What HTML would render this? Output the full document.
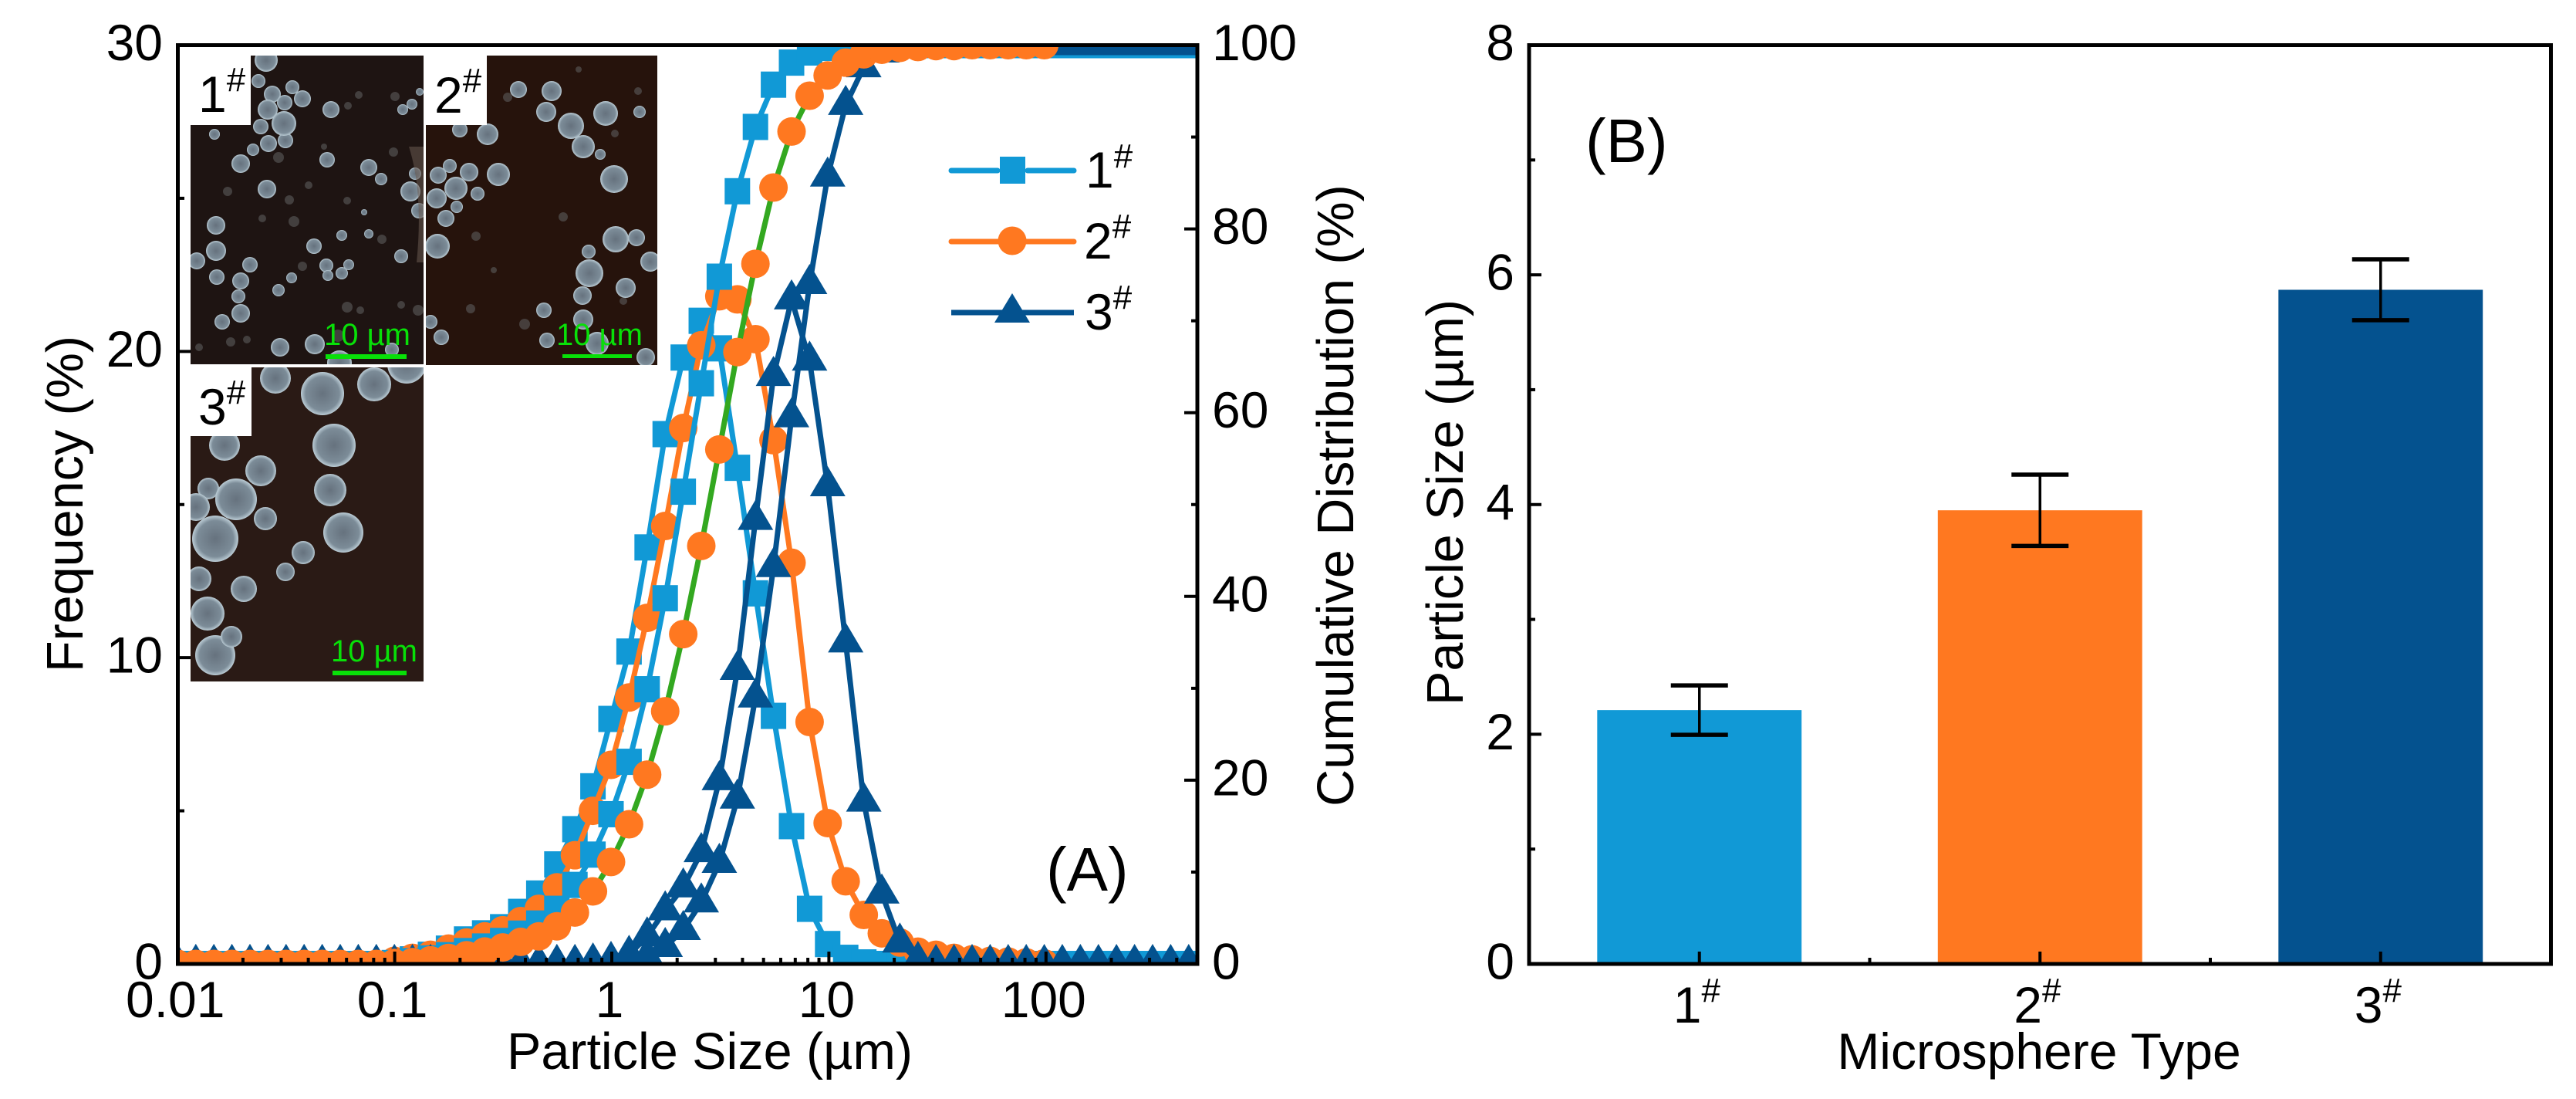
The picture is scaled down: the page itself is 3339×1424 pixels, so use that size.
<!DOCTYPE html>
<html lang="en">
<head>
<meta charset="utf-8">
<title>Particle size distribution and microsphere size</title>
<style>
html,body{margin:0;padding:0;background:#fff}
svg{display:block}
text{font-family:"Liberation Sans",Arial,sans-serif;fill:#000}
</style>
</head>
<body>
<svg id="figure" xmlns="http://www.w3.org/2000/svg" width="3339" height="1424" viewBox="0 0 3339 1424">
  <defs>
    <radialGradient id="bubble" cx="50%" cy="50%" r="50%">
      <stop offset="0%" stop-color="#66727e"/>
      <stop offset="78%" stop-color="#7c8c98"/>
      <stop offset="100%" stop-color="#bccdd6"/>
    </radialGradient>
    <clipPath id="clip-a"><rect x="233" y="60.5" width="1316.5" height="1186"/></clipPath>
    <clipPath id="clip-inset-1"><polygon points="325,72 549,72 549,472 247,472 247,162 325,162"/></clipPath>
    <clipPath id="clip-inset-2"><polygon points="631,72 852,72 852,473 552,473 552,162 631,162"/></clipPath>
    <clipPath id="clip-inset-3"><polygon points="326,476 549,476 549,883 247,883 247,565 326,565"/></clipPath>
  </defs>

  <rect x="0" y="0" width="3339" height="1424" fill="#ffffff"/>

  <g id="panel-a">
    <g id="marks-a" clip-path="url(#clip-a)"></g>

    <g clip-path="url(#clip-inset-1)">
      <rect x="247" y="72" width="302" height="400" fill="#1e1412"/>
      <g fill="#4d4a4a" opacity=".8">
        <circle cx="295" cy="248" r="6"/><circle cx="361" cy="204" r="7"/><circle cx="375" cy="259" r="6"/><circle cx="381" cy="287" r="7"/><circle cx="392" cy="345" r="6"/><circle cx="465" cy="123" r="5"/><circle cx="451" cy="137" r="5"/><circle cx="512" cy="125" r="6"/><circle cx="510" cy="197" r="6"/><circle cx="450" cy="398" r="7"/><circle cx="467" cy="402" r="5"/><circle cx="542" cy="402" r="7"/><circle cx="299" cy="443" r="6"/><circle cx="438" cy="435" r="8"/><circle cx="520" cy="395" r="5"/><circle cx="340" cy="283" r="5"/><circle cx="400" cy="240" r="5"/><circle cx="450" cy="260" r="5"/><circle cx="495" cy="310" r="6"/><circle cx="420" cy="190" r="4"/><circle cx="320" cy="440" r="5"/><circle cx="258" cy="450" r="5"/>
      </g>
      <g fill="url(#bubble)">
        <circle cx="345" cy="78" r="15"/><circle cx="335" cy="105" r="9"/><circle cx="353" cy="122" r="11"/><circle cx="379" cy="113" r="9"/><circle cx="392" cy="128" r="11"/><circle cx="369" cy="133" r="10"/><circle cx="347" cy="142" r="13"/><circle cx="338" cy="164" r="10"/><circle cx="370" cy="182" r="10"/><circle cx="368" cy="160" r="16"/><circle cx="348" cy="186" r="11"/><circle cx="328" cy="194" r="8"/><circle cx="312" cy="212" r="12"/><circle cx="278" cy="174" r="7"/><circle cx="346" cy="245" r="12"/><circle cx="280" cy="292" r="12"/><circle cx="280" cy="325" r="13"/><circle cx="255" cy="338" r="11"/><circle cx="324" cy="343" r="10"/><circle cx="281" cy="359" r="10"/><circle cx="312" cy="364" r="11"/><circle cx="309" cy="384" r="9"/><circle cx="312" cy="406" r="12"/><circle cx="407" cy="319" r="10"/><circle cx="361" cy="376" r="8"/><circle cx="378" cy="360" r="7"/><circle cx="288" cy="417" r="10"/><circle cx="363" cy="450" r="12"/><circle cx="408" cy="446" r="13"/><circle cx="423" cy="344" r="9"/><circle cx="425" cy="357" r="7"/><circle cx="443" cy="354" r="8"/><circle cx="452" cy="343" r="7"/><circle cx="520" cy="332" r="9"/><circle cx="508" cy="453" r="9"/><circle cx="429" cy="142" r="11"/><circle cx="534" cy="135" r="7"/><circle cx="522" cy="142" r="7"/><circle cx="544" cy="119" r="5"/><circle cx="424" cy="207" r="10"/><circle cx="478" cy="217" r="11"/><circle cx="494" cy="232" r="8"/><circle cx="532" cy="248" r="13"/><circle cx="538" cy="225" r="8"/><circle cx="543" cy="273" r="10"/><circle cx="472" cy="275" r="4"/><circle cx="443" cy="305" r="7"/><circle cx="478" cy="303" r="6"/><circle cx="440" cy="470" r="16"/>
      </g>
      <path d="M530 190 Q549 250 540 340 L549 340 L549 190Z" fill="#6a5a50" opacity=".55"/>
    </g>
    <text x="257" y="145" font-size="66">1<tspan dy="-27" font-size="44">#</tspan></text>
    <text x="420" y="447" font-size="40" style="fill:#08e008">10 µm</text>
    <rect x="422" y="459" width="105" height="6" fill="#08e008"/>

    <g clip-path="url(#clip-inset-2)">
      <rect x="552" y="72" width="300" height="401" fill="#26130c"/>
      <g fill="#4f4a48" opacity=".8">
        <circle cx="658" cy="126" r="6"/><circle cx="617" cy="306" r="6"/><circle cx="730" cy="281" r="6"/><circle cx="797" cy="173" r="5"/><circle cx="827" cy="118" r="5"/><circle cx="808" cy="390" r="5"/><circle cx="610" cy="400" r="6"/><circle cx="680" cy="420" r="7"/><circle cx="750" cy="90" r="4"/><circle cx="640" cy="350" r="4"/>
      </g>
      <g fill="url(#bubble)">
        <circle cx="672" cy="116" r="11"/><circle cx="715" cy="118" r="13"/><circle cx="708" cy="145" r="13"/><circle cx="632" cy="174" r="14"/><circle cx="596" cy="168" r="10"/><circle cx="583" cy="215" r="9"/><circle cx="568" cy="227" r="11"/><circle cx="608" cy="223" r="12"/><circle cx="646" cy="226" r="15"/><circle cx="591" cy="244" r="15"/><circle cx="566" cy="257" r="13"/><circle cx="619" cy="251" r="9"/><circle cx="578" cy="283" r="11"/><circle cx="592" cy="268" r="8"/><circle cx="567" cy="319" r="16"/><circle cx="740" cy="163" r="17"/><circle cx="756" cy="190" r="15"/><circle cx="778" cy="200" r="7"/><circle cx="785" cy="147" r="16"/><circle cx="829" cy="145" r="8"/><circle cx="796" cy="232" r="18"/><circle cx="798" cy="310" r="17"/><circle cx="825" cy="308" r="11"/><circle cx="763" cy="326" r="9"/><circle cx="843" cy="339" r="13"/><circle cx="764" cy="354" r="18"/><circle cx="811" cy="373" r="13"/><circle cx="755" cy="383" r="12"/><circle cx="705" cy="402" r="10"/><circle cx="756" cy="414" r="13"/><circle cx="709" cy="441" r="10"/><circle cx="774" cy="445" r="15"/><circle cx="837" cy="463" r="12"/><circle cx="558" cy="417" r="9"/><circle cx="572" cy="437" r="10"/>
      </g>
    </g>
    <text x="563" y="146" font-size="66">2<tspan dy="-27" font-size="44">#</tspan></text>
    <text x="721" y="447" font-size="40" style="fill:#08e008">10 µm</text>
    <rect x="729" y="459" width="90" height="5" fill="#08e008"/>

    <g clip-path="url(#clip-inset-3)">
      <rect x="247" y="476" width="302" height="407" fill="#2a1a15"/>
      <g fill="url(#bubble)">
        <circle cx="357" cy="490" r="20"/><circle cx="418" cy="510" r="28"/><circle cx="485" cy="498" r="22"/><circle cx="527" cy="472" r="25"/><circle cx="433" cy="577" r="28"/><circle cx="291" cy="577" r="20"/><circle cx="338" cy="610" r="20"/><circle cx="270" cy="633" r="14"/><circle cx="306" cy="647" r="27"/><circle cx="428" cy="635" r="21"/><circle cx="254" cy="657" r="18"/><circle cx="445" cy="690" r="26"/><circle cx="393" cy="716" r="15"/><circle cx="344" cy="672" r="15"/><circle cx="279" cy="698" r="30"/><circle cx="370" cy="741" r="12"/><circle cx="269" cy="795" r="22"/><circle cx="279" cy="849" r="26"/><circle cx="316" cy="763" r="17"/><circle cx="258" cy="750" r="16"/><circle cx="300" cy="825" r="14"/>
      </g>
    </g>
    <text x="257" y="550" font-size="66">3<tspan dy="-27" font-size="44">#</tspan></text>
    <text x="429" y="857" font-size="40" style="fill:#08e008">10 µm</text>
    <rect x="431" y="869" width="96" height="6" fill="#08e008"/>

    <rect x="230.5" y="58.5" width="1321.5" height="1190.5" fill="none" stroke="#000" stroke-width="5"/>
    <g id="axes-a"></g>

    <text x="920" y="1385" font-size="66.5" text-anchor="middle">Particle Size (µm)</text>
    <text transform="translate(107,653) rotate(-90)" font-size="66.5" text-anchor="middle">Frequency (%)</text>
    <text transform="translate(1754,642) rotate(-90)" font-size="66.5" text-anchor="middle">Cumulative Distribution (%)</text>
    <text x="1356" y="1154" font-size="80">(A)</text>

    <g>
      <g>
        <line x1="1233" y1="221" x2="1293" y2="221" stroke="#1199d6" stroke-width="7" stroke-linecap="round"/>
        <line x1="1332" y1="221" x2="1392" y2="221" stroke="#1199d6" stroke-width="7" stroke-linecap="round"/>
        <rect x="1296" y="203" width="33" height="35" fill="#1199d6"/>
        <text x="1407" y="243" font-size="66">1<tspan dy="-26" font-size="44">#</tspan></text>
      </g>
      <g>
        <line x1="1233" y1="313" x2="1392" y2="313" stroke="#ff7820" stroke-width="7" stroke-linecap="round"/>
        <circle cx="1312" cy="312" r="18.5" fill="#ff7820"/>
        <text x="1405" y="335" font-size="66">2<tspan dy="-27" font-size="44">#</tspan></text>
      </g>
      <g>
        <line x1="1233" y1="405" x2="1392" y2="405" stroke="#04528f" stroke-width="7"/>
        <polygon points="1312,380 1335,418 1289,418" fill="#04528f"/>
        <text x="1406" y="427" font-size="66">3<tspan dy="-27" font-size="44">#</tspan></text>
      </g>
    </g>
  </g>

  <g id="panel-b">
    <g id="marks-b"></g>
    <rect x="1982" y="58.5" width="1324.5" height="1190.5" fill="none" stroke="#000" stroke-width="5"/>
    <g id="axes-b"></g>
    <text x="2643" y="1385" font-size="66" text-anchor="middle">Microsphere Type</text>
    <text transform="translate(1896,651) rotate(-90)" font-size="66.5" text-anchor="middle">Particle Size (µm)</text>
    <text x="2055" y="210" font-size="80">(B)</text>
  </g>
</svg>

<script>
/* Panel A data: bin sizes (µm) */
const sizes = [0.01002,0.01213,0.01469,0.01779,0.02154,0.02609,0.0316,0.03826,0.04634,0.05612,0.06796,0.0823,0.09968,0.1207,0.1462,0.177,0.2144,0.2597,0.3144,0.3808,0.4612,0.5585,0.6763,0.819,0.9918,1.201,1.455,1.762,2.134,2.584,3.129,3.789,4.589,5.557,6.73,8.15,9.87,11.95,14.48,17.53,21.23,25.71,31.13,37.71,45.66,55.3,66.97,81.1,98.2,118.9,144,174.4,211.2,255.9,309.8,375.2,454.3,550.3];

/* Frequency (%) per bin, left axis */
const freq1 = [0,0,0,0,0,0,0,0,0,0,0,0,0,0.15,0.3,0.5,0.8,1.0,1.2,1.7,2.3,3.25,4.4,5.8,8.0,10.2,13.6,17.3,19.8,21.0,20.1,16.2,12.1,8.1,4.5,1.8,0.65,0.2,0.05,0,0,0,0,0,0,0,0,0,0,0,0,0,0,0,0,0,0,0];
const freq2 = [0,0,0,0,0,0,0,0,0,0,0,0,0.1,0.2,0.3,0.5,0.7,0.9,1.1,1.4,1.8,2.5,3.55,5.0,6.5,8.7,11.3,14.3,17.5,20.2,21.8,21.7,20.4,17.1,13.1,7.9,4.6,2.7,1.6,1.0,0.7,0.4,0.3,0.2,0.15,0.1,0.08,0.05,0.02,null,null,null,null,null,null,null,null,null];
const freq3 = [0,0,0,0,0,0,0,0,0,0,0,0,0,0,0,0,0,0,0,0,0,0,0,0.05,0.1,0.3,0.9,1.75,2.5,3.65,6.0,9.6,14.5,19.2,21.7,19.7,15.6,10.5,5.3,2.3,0.7,0.1,0,0,0,0,0,0,0,0,0,0,0,0,0,0,0,0];

/* Cumulative distribution (%) per bin, right axis */
const cum1 = [0,0,0,0,0,0,0,0,0,0,0,0,0.1,0.3,0.6,0.95,1.4,1.9,2.5,3.3,4.4,6.0,8.6,11.9,16.3,22,29.9,39.8,51.4,63.2,74.8,84.1,91.1,95.7,98.1,99.2,99.7,99.9,100,100,100,100,100,100,100,100,100,100,100,100,100,100,100,100,100,100,100,100];
const cum2 = [0,0,0,0,0,0,0,0,0,0,0,0,0.1,0.2,0.4,0.65,0.95,1.35,1.8,2.4,3.0,4.1,5.6,7.9,11.1,15.2,20.6,27.5,35.9,45.5,56,66.6,76.2,84.5,90.6,94.5,96.7,98.1,99,99.5,99.7,99.8,99.9,99.9,100,100,100,100,100,null,null,null,null,null,null,null,null,null];
const cum3 = [0,0,0,0,0,0,0,0,0,0,0,0,0,0,0,0,0,0,0,0,0,0,0,0,0,0.2,0.75,1.85,3.7,6.7,11,18,29,43.2,59.5,74,85.7,93.5,97.6,99.2,99.8,100,100,100,100,100,100,100,100,100,100,100,100,100,100,100,100,100];

/* Panel A ticks */
const xTicksA = [0.01,0.1,1,10,100];
const xTickLabelsA = ['0.01','0.1','1','10','100'];
const xMinorMultipliers = [2,3,4,5,6,7,8,9];
const yTicksFreq = [0,10,20,30];
const yMinorFreq = [5,15,25];
const yTicksCum = [0,20,40,60,80,100];
const yMinorCum = [10,30,50,70,90];

/* Panel B data */
const barCategories = ['1','2','3'];
const barPositions = [1,2,3];
const barMeans = [2.21,3.95,5.87];
const barErrors = [0.215,0.31,0.265];
const barTicksMinor = [1.5,2.5];
const yTicksB = [0,2,4,6,8];
const yMinorB = [1,3,5,7];

/* Colours */
const BLUE = '#1199d6', ORANGE = '#ff7820', NAVY = '#04528f', GREEN = '#33a820';
const SVGNS = 'http://www.w3.org/2000/svg';

/* Axis functions */
const xA = s => 793 + 281.4 * Math.log10(s);
const yFreq = v => 1249 - (v / 30) * 1190.5;
const yCum = v => 1249 - (v / 100) * 1190.5;
const xB = c => 1982 + (c - 0.5) * 441.5;
const yB = v => 1249 - (v / 8) * 1190.5;

function make(tag, attrs, parent) {
  const node = document.createElementNS(SVGNS, tag);
  for (const k in attrs) node.setAttribute(k, attrs[k]);
  parent.appendChild(node);
  return node;
}

const marksA = document.getElementById('marks-a');
const axesA = document.getElementById('axes-a');
const marksB = document.getElementById('marks-b');
const axesB = document.getElementById('axes-b');

function drawSeries(seriesName, values, yScale, lineColor, markerColor, shape) {
  const g = make('g', {}, marksA);
  
  
  let d = '';
  values.forEach((v, i) => {
    if (v === null) return;
    d += (d ? 'L' : 'M') + xA(sizes[i]).toFixed(1) + ' ' + yScale(v).toFixed(1);
  });
  const line = make('path', {d: d, fill: 'none', stroke: lineColor, 'stroke-width': 7, 'stroke-linejoin': 'round'}, g);
  
  
  values.forEach((v, i) => {
    if (v === null) return;
    const x = xA(sizes[i]), y = yScale(v);
    let m;
    if (shape === 'square') {
      m = make('rect', {x: x - 16.5, y: y - 17, width: 33, height: 34, fill: markerColor}, g);
    } else if (shape === 'circle') {
      m = make('circle', {cx: x, cy: y, r: 18.5, fill: markerColor}, g);
    } else {
      m = make('polygon', {points: x + ',' + (y - 26) + ' ' + (x + 23) + ',' + (y + 13) + ' ' + (x - 23) + ',' + (y + 13), fill: markerColor}, g);
    }
    
    
  });
}

drawSeries('frequency-1', freq1, yFreq, BLUE, BLUE, 'square');
drawSeries('frequency-2', freq2, yFreq, ORANGE, ORANGE, 'circle');
drawSeries('frequency-3', freq3, yFreq, NAVY, NAVY, 'triangle');
drawSeries('cumulative-1', cum1, yCum, BLUE, BLUE, 'square');
drawSeries('cumulative-3', cum3, yCum, NAVY, NAVY, 'triangle');
drawSeries('cumulative-2', cum2, yCum, GREEN, ORANGE, 'circle');

function tick(parent, x1, y1, x2, y2, name) {
  const t = make('line', {x1: x1, y1: y1, x2: x2, y2: y2, stroke: '#000', 'stroke-width': 4}, parent);
  
  
}

function label(parent, x, y, text, anchor, name) {
  const t = make('text', {x: x, y: y, 'font-size': 66, 'text-anchor': anchor}, parent);
  t.textContent = text;
  
  
}

/* Panel A x axis */
xTicksA.forEach((v, i) => {
  tick(axesA, xA(v), 1249, xA(v), 1233, 'x-tick-a');
  label(axesA, xA(v) - 3, 1318, xTickLabelsA[i], 'middle', 'x-tick-label-a');
  xMinorMultipliers.forEach(m => {
    if (v * m <= 500) tick(axesA, xA(v * m), 1249, xA(v * m), 1241, 'x-minor-tick-a');
  });
});

/* Panel A left axis */
yTicksFreq.forEach(v => {
  tick(axesA, 230.5, yFreq(v), 247, yFreq(v), 'y-tick-frequency');
  label(axesA, 211, yFreq(v) + 19.5, String(v), 'end', 'y-tick-label-frequency');
});
yMinorFreq.forEach(v => {
  tick(axesA, 230.5, yFreq(v), 239, yFreq(v), 'y-minor-tick-frequency');
});

/* Panel A right axis */
yTicksCum.forEach(v => {
  tick(axesA, 1552, yCum(v), 1535, yCum(v), 'y-tick-cumulative');
  label(axesA, 1571, yCum(v) + 19.5, String(v), 'start', 'y-tick-label-cumulative');
});
yMinorCum.forEach(v => {
  tick(axesA, 1552, yCum(v), 1544, yCum(v), 'y-minor-tick-cumulative');
});

/* Panel B bars */
const barColors = [BLUE, ORANGE, NAVY];
barPositions.forEach((c, i) => {
  const halfWidth = 0.3 * 441.5;
  const bar = make('rect', {x: xB(c) - halfWidth, y: yB(barMeans[i]), width: 2 * halfWidth, height: yB(0) - yB(barMeans[i]), fill: barColors[i]}, marksB);
  
  
});
barPositions.forEach((c, i) => {
  const hi = yB(barMeans[i] + barErrors[i]), lo = yB(barMeans[i] - barErrors[i]);
  const e = make('g', {stroke: '#000'}, marksB);
  
  
  make('line', {x1: xB(c), y1: hi, x2: xB(c), y2: lo, 'stroke-width': 3.5}, e);
  make('line', {x1: xB(c) - 37, y1: hi, x2: xB(c) + 37, y2: hi, 'stroke-width': 5.5}, e);
  make('line', {x1: xB(c) - 37, y1: lo, x2: xB(c) + 37, y2: lo, 'stroke-width': 5.5}, e);
});

/* Panel B axes */
barPositions.forEach((c, i) => {
  tick(axesB, xB(c), 1249, xB(c), 1233, 'x-tick-b');
  const t = make('text', {x: xB(c) - 34, y: 1325, 'font-size': 66}, axesB);
  
  
  const main = make('tspan', {}, t);
  main.textContent = barCategories[i];
  const sup = make('tspan', {dy: -27, 'font-size': 44}, t);
  sup.textContent = '#';
});
barTicksMinor.forEach(c => {
  tick(axesB, xB(c), 1249, xB(c), 1241, 'x-minor-tick-b');
});
yTicksB.forEach(v => {
  tick(axesB, 1982, yB(v), 1998, yB(v), 'y-tick-b');
  label(axesB, 1963, yB(v) + 19.5, String(v), 'end', 'y-tick-label-b');
});
yMinorB.forEach(v => {
  tick(axesB, 1982, yB(v), 1990, yB(v), 'y-minor-tick-b');
});
</script>
</body>
</html>
